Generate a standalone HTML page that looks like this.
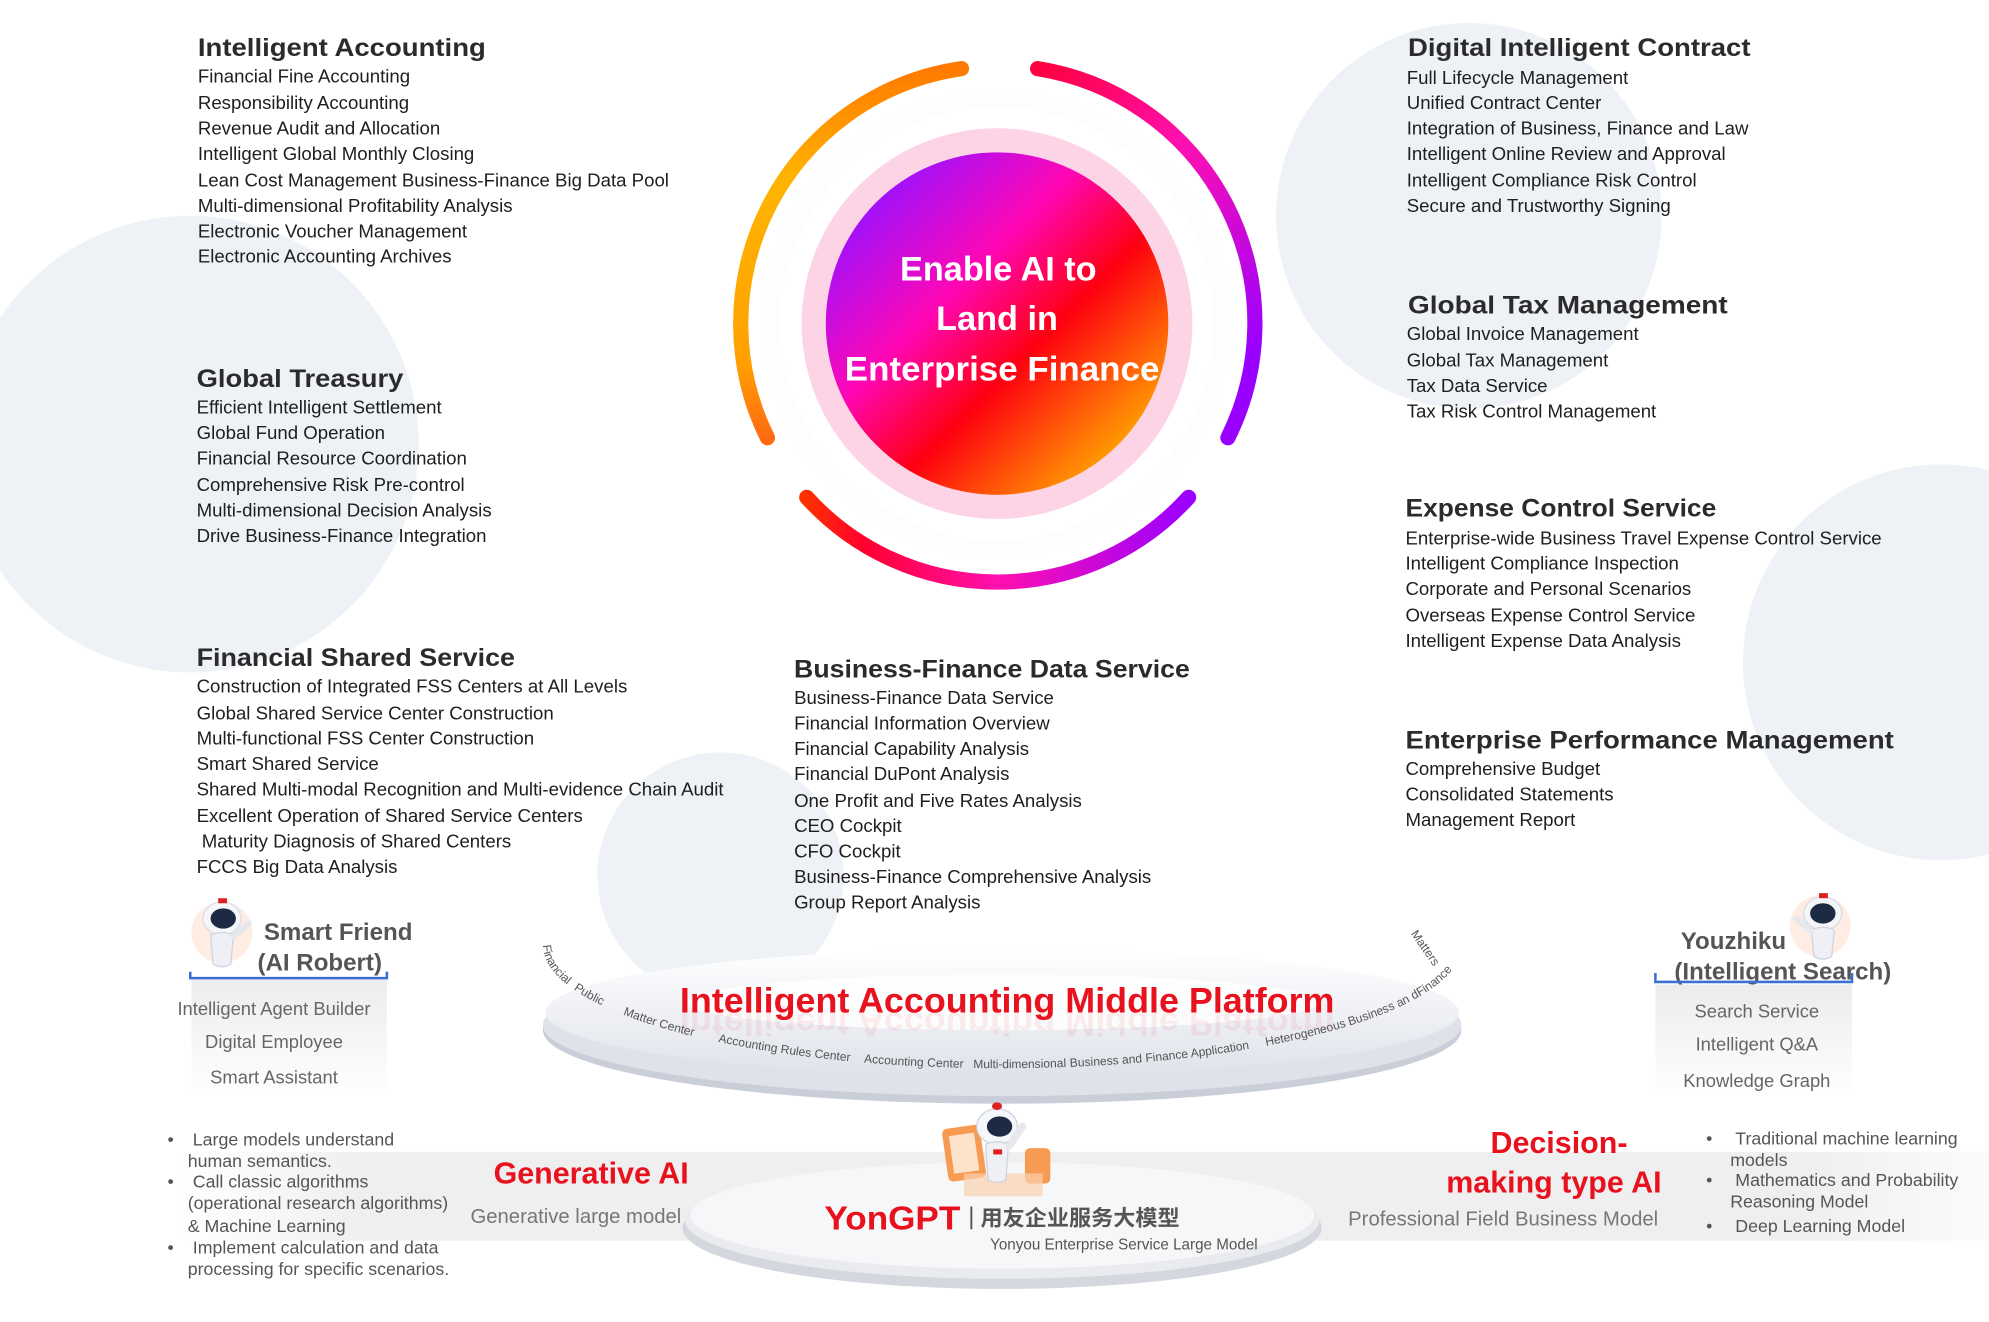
<!DOCTYPE html>
<html><head><meta charset="utf-8"><style>
html,body{margin:0;padding:0;background:#fff;overflow:hidden}
svg{display:block}
text{font-family:"Liberation Sans","Noto Sans CJK SC",sans-serif}
.h{font-weight:bold;font-size:20px;fill:#2b2b2b}
.i{font-size:14.7px;fill:#1e1e1e}
.g{font-size:14.5px;fill:#666}
.b{font-size:14px;fill:#555}
</style></head><body>
<svg width="1989" height="1322" viewBox="0 0 1568 1042" xmlns="http://www.w3.org/2000/svg">
<defs>
<linearGradient id="core" x1="0.15" y1="0.1" x2="0.9" y2="0.85">
<stop offset="0" stop-color="#9a12ff"/><stop offset="0.35" stop-color="#ff07b5"/><stop offset="0.62" stop-color="#ff0010"/><stop offset="1" stop-color="#ffa500"/></linearGradient>
<linearGradient id="arcL" x1="0" y1="0" x2="0" y2="1"><stop offset="0" stop-color="#ff7a00"/><stop offset="0.3" stop-color="#ffb400"/><stop offset="0.8" stop-color="#ffa000"/><stop offset="1" stop-color="#ff6a10"/></linearGradient>
<linearGradient id="arcR" x1="0" y1="0" x2="0.4" y2="1"><stop offset="0" stop-color="#ff0040"/><stop offset="0.4" stop-color="#ff10b0"/><stop offset="1" stop-color="#9a00ff"/></linearGradient>
<linearGradient id="arcB" x1="0" y1="0" x2="1" y2="0"><stop offset="0" stop-color="#ff3000"/><stop offset="0.15" stop-color="#ff0030"/><stop offset="0.5" stop-color="#ff10b0"/><stop offset="1" stop-color="#9a00ff"/></linearGradient>
<radialGradient id="glow"><stop offset="0.75" stop-color="#ffd6ea"/><stop offset="1" stop-color="#fff" stop-opacity="0"/></radialGradient>
<linearGradient id="plat" x1="0" y1="0" x2="0" y2="1"><stop offset="0" stop-color="#ffffff"/><stop offset="0.6" stop-color="#eceef3"/><stop offset="1" stop-color="#dfe2ea"/></linearGradient>
<linearGradient id="band" x1="0" y1="0" x2="1" y2="0"><stop offset="0" stop-color="#f2f2f2" stop-opacity="0"/><stop offset="0.1" stop-color="#efefef"/><stop offset="0.9" stop-color="#efefef"/><stop offset="1" stop-color="#f2f2f2" stop-opacity="0.3"/></linearGradient>
<linearGradient id="box" x1="0" y1="0" x2="0" y2="1"><stop offset="0" stop-color="#ececec"/><stop offset="1" stop-color="#fff"/></linearGradient>
<path id="rim" d="M 428 745 A 362 97 0 0 0 1152 745"/>
</defs>

<circle cx="150" cy="350" r="180" fill="#eef1f5"/>
<circle cx="1158" cy="170" r="152" fill="#eef1f5"/>
<circle cx="1530" cy="522" r="156" fill="#eef1f5"/>
<circle cx="568" cy="690" r="97" fill="#eef1f5"/>

<circle cx="786" cy="255" r="190" fill="url(#glow)" opacity="0.6"/>
<circle cx="786" cy="255" r="171" fill="#fff"/>
<circle cx="786" cy="255" r="154" fill="#fdd3e6"/>
<circle cx="786" cy="255" r="135" fill="url(#core)"/>
<g fill="none" stroke-width="12" stroke-linecap="round">
<path d="M 605 345 A 203 203 0 0 1 758 54" stroke="url(#arcL)"/>
<path d="M 818 54 A 203 203 0 0 1 968 345" stroke="url(#arcR)"/>
<path d="M 636 392 A 203 203 0 0 0 937 392" stroke="url(#arcB)"/>
</g>
<g fill="#fff" font-weight="bold" font-size="27" text-anchor="middle">
<text x="787" y="221">Enable AI to</text>
<text x="786" y="260">Land in</text>
<text x="790" y="300" textLength="248" lengthAdjust="spacingAndGlyphs">Enterprise Finance</text>
</g>

<text class="h" x="156" y="44" textLength="227" lengthAdjust="spacingAndGlyphs">Intelligent Accounting</text>
<g class="i">
<text x="156" y="65">Financial Fine Accounting</text>
<text x="156" y="86">Responsibility Accounting</text>
<text x="156" y="106">Revenue Audit and Allocation</text>
<text x="156" y="126">Intelligent Global Monthly Closing</text>
<text x="156" y="147">Lean Cost Management Business-Finance Big Data Pool</text>
<text x="156" y="167">Multi-dimensional Profitability Analysis</text>
<text x="156" y="187">Electronic Voucher Management</text>
<text x="156" y="207">Electronic Accounting Archives</text>
</g>
<text class="h" x="155" y="305" textLength="163" lengthAdjust="spacingAndGlyphs">Global Treasury</text>
<g class="i">
<text x="155" y="326">Efficient Intelligent Settlement</text>
<text x="155" y="346">Global Fund Operation</text>
<text x="155" y="366">Financial Resource Coordination</text>
<text x="155" y="387">Comprehensive Risk Pre-control</text>
<text x="155" y="407">Multi-dimensional Decision Analysis</text>
<text x="155" y="427">Drive Business-Finance Integration</text>
</g>
<text class="h" x="155" y="525" textLength="251" lengthAdjust="spacingAndGlyphs">Financial Shared Service</text>
<g class="i">
<text x="155" y="546">Construction of Integrated FSS Centers at All Levels</text>
<text x="155" y="567">Global Shared Service Center Construction</text>
<text x="155" y="587">Multi-functional FSS Center Construction</text>
<text x="155" y="607">Smart Shared Service</text>
<text x="155" y="627">Shared Multi-modal Recognition and Multi-evidence Chain Audit</text>
<text x="155" y="648">Excellent Operation of Shared Service Centers</text>
<text x="159" y="668">Maturity Diagnosis of Shared Centers</text>
<text x="155" y="688">FCCS Big Data Analysis</text>
</g>

<text class="h" x="626" y="534" textLength="312" lengthAdjust="spacingAndGlyphs">Business-Finance Data Service</text>
<g class="i">
<text x="626" y="555">Business-Finance Data Service</text>
<text x="626" y="575">Financial Information Overview</text>
<text x="626" y="595">Financial Capability Analysis</text>
<text x="626" y="615">Financial DuPont Analysis</text>
<text x="626" y="636">One Profit and Five Rates Analysis</text>
<text x="626" y="656">CEO Cockpit</text>
<text x="626" y="676">CFO Cockpit</text>
<text x="626" y="696">Business-Finance Comprehensive Analysis</text>
<text x="626" y="716">Group Report Analysis</text>
</g>

<text class="h" x="1110" y="44" textLength="270" lengthAdjust="spacingAndGlyphs">Digital Intelligent Contract</text>
<g class="i">
<text x="1109" y="66">Full Lifecycle Management</text>
<text x="1109" y="86">Unified Contract Center</text>
<text x="1109" y="106">Integration of Business, Finance and Law</text>
<text x="1109" y="126">Intelligent Online Review and Approval</text>
<text x="1109" y="147">Intelligent Compliance Risk Control</text>
<text x="1109" y="167">Secure and Trustworthy Signing</text>
</g>
<text class="h" x="1110" y="247" textLength="252" lengthAdjust="spacingAndGlyphs">Global Tax Management</text>
<g class="i">
<text x="1109" y="268">Global Invoice Management</text>
<text x="1109" y="289">Global Tax Management</text>
<text x="1109" y="309">Tax Data Service</text>
<text x="1109" y="329">Tax Risk Control Management</text>
</g>
<text class="h" x="1108" y="407" textLength="245" lengthAdjust="spacingAndGlyphs">Expense Control Service</text>
<g class="i">
<text x="1108" y="429">Enterprise-wide Business Travel Expense Control Service</text>
<text x="1108" y="449">Intelligent Compliance Inspection</text>
<text x="1108" y="469">Corporate and Personal Scenarios</text>
<text x="1108" y="490">Overseas Expense Control Service</text>
<text x="1108" y="510">Intelligent Expense Data Analysis</text>
</g>
<text class="h" x="1108" y="590" textLength="385" lengthAdjust="spacingAndGlyphs">Enterprise Performance Management</text>
<g class="i">
<text x="1108" y="611">Comprehensive Budget</text>
<text x="1108" y="631">Consolidated Statements</text>
<text x="1108" y="651">Management Report</text>
</g>

<rect x="151" y="770" width="154" height="95" fill="url(#box)"/>
<circle cx="175" cy="735" r="24" fill="#ffe0d0" opacity="0.6"/>
<g>
<ellipse cx="175" cy="724" rx="15" ry="13" fill="#f4f6fa" stroke="#d8dce4"/>
<ellipse cx="176" cy="724" rx="10" ry="8" fill="#1d2a44"/>
<rect x="172" y="708" width="7" height="4" fill="#d22"/>
<path d="M166 737 Q175 733 184 737 L182 760 Q175 764 168 760 Z" fill="#eef0f5" stroke="#d0d4dc"/>
<path d="M184 738 L196 728" stroke="#e6e8ee" stroke-width="5" stroke-linecap="round"/>
</g>
<g font-weight="bold" font-size="19" fill="#555">
<text x="208" y="741">Smart Friend</text>
<text x="203" y="765">(AI Robert)</text>
</g>
<path d="M150 766 V771 H305 V766" fill="none" stroke="#3b6fd1" stroke-width="2"/>
<g class="g" text-anchor="middle">
<text x="216" y="800">Intelligent Agent Builder</text>
<text x="216" y="826">Digital Employee</text>
<text x="216" y="854">Smart Assistant</text>
</g>

<rect x="1305" y="776" width="155" height="88" fill="url(#box)"/>
<circle cx="1435" cy="730" r="24" fill="#ffe0d0" opacity="0.6"/>
<g>
<ellipse cx="1437" cy="720" rx="15" ry="13" fill="#f4f6fa" stroke="#d8dce4"/>
<ellipse cx="1437" cy="720" rx="10" ry="8" fill="#1d2a44"/>
<rect x="1434" y="704" width="7" height="4" fill="#d22"/>
<path d="M1428 733 Q1437 729 1446 733 L1444 754 Q1437 758 1430 754 Z" fill="#eef0f5" stroke="#d0d4dc"/>
<path d="M1428 734 L1416 724" stroke="#e6e8ee" stroke-width="5" stroke-linecap="round"/>
</g>
<g font-weight="bold" font-size="19" fill="#555">
<text x="1325" y="748">Youzhiku</text>
<text x="1320" y="772">(Intelligent Search)</text>
</g>
<path d="M1305 767 V774 H1460 V767" fill="none" stroke="#3b6fd1" stroke-width="2"/>
<g class="g" text-anchor="middle">
<text x="1385" y="802">Search Service</text>
<text x="1385" y="828">Intelligent Q&amp;A</text>
<text x="1385" y="857">Knowledge Graph</text>
</g>

<ellipse cx="790" cy="812" rx="362" ry="58" fill="#c9ced8"/>
<ellipse cx="790" cy="808" rx="362" ry="56" fill="#dfe2e9"/>
<ellipse cx="790" cy="798" rx="360" ry="50" fill="url(#plat)"/>
<ellipse cx="790" cy="790" rx="250" ry="22" fill="#fff" opacity="0.8"/>
<text x="794" y="798" text-anchor="middle" font-weight="bold" font-size="28" fill="#e8121e" textLength="516" lengthAdjust="spacingAndGlyphs">Intelligent Accounting Middle Platform</text>
<text x="794" y="806" text-anchor="middle" font-weight="bold" font-size="26" fill="#e8121e" opacity="0.07" transform="translate(0,1604) scale(1,-1)" textLength="516" lengthAdjust="spacingAndGlyphs">Intelligent Accounting Middle Platform</text>
<g font-size="9.5" fill="#555">
<text><textPath href="#rim" startOffset="0">Financial</textPath></text>
<text><textPath href="#rim" startOffset="44">Public</textPath></text>
<text><textPath href="#rim" startOffset="88">Matter Center</textPath></text>
<text><textPath href="#rim" startOffset="166">Accounting Rules Center</textPath></text>
<text><textPath href="#rim" startOffset="282">Accounting Center</textPath></text>
<text><textPath href="#rim" startOffset="368">Multi-dimensional Business and Finance Application</textPath></text>
<text><textPath href="#rim" startOffset="600">Heterogeneous Business an dFinance</textPath></text>
<text x="1112" y="736" transform="rotate(55 1112 736)">Matters</text>
</g>

<rect x="140" y="908" width="1428" height="70" fill="url(#band)"/>
<ellipse cx="790" cy="968" rx="252" ry="48" fill="#d4d7de"/>
<ellipse cx="790" cy="962" rx="250" ry="46" fill="#e9ebef"/>
<ellipse cx="790" cy="958" rx="246" ry="42" fill="#f6f7f9"/>
<g>
<rect x="745" y="888" width="30" height="42" rx="4" fill="#f79a52" transform="rotate(-8 760 909)"/>
<rect x="750" y="894" width="20" height="30" fill="#fde3cc" transform="rotate(-8 760 909)"/>
<rect x="808" y="905" width="20" height="28" rx="4" fill="#f79a52"/>
<rect x="760" y="925" width="62" height="18" fill="#fbd0b0" opacity="0.7"/>
<ellipse cx="786" cy="888" rx="16" ry="14" fill="#f4f6fa" stroke="#d0d4dc"/>
<ellipse cx="788" cy="888" rx="10" ry="8" fill="#1d2a44"/>
<ellipse cx="786" cy="872" rx="4" ry="3" fill="#d22"/>
<path d="M777 902 Q786 898 795 902 L793 930 Q786 934 779 930 Z" fill="#eef0f5" stroke="#d0d4dc"/>
<path d="M796 903 L806 888" stroke="#e6e8ee" stroke-width="6" stroke-linecap="round"/>
<rect x="783" y="906" width="7" height="4" fill="#e02020"/>
</g>
<text x="650" y="969" font-weight="bold" font-size="26" fill="#e8121e" textLength="107" lengthAdjust="spacingAndGlyphs">YonGPT</text>
<rect x="765" y="951" width="1.5" height="18" fill="#555"/>
<text x="773" y="966" font-weight="bold" font-size="17" fill="#555" textLength="157" lengthAdjust="spacingAndGlyphs">用友企业服务大模型</text>
<text x="886" y="985" text-anchor="middle" font-size="12" fill="#555">Yonyou Enterprise Service Large Model</text>

<g font-weight="bold" font-size="24" fill="#e8121e" text-anchor="middle">
<text x="466" y="933">Generative AI</text>
<text x="1229" y="909">Decision-</text>
<text x="1225" y="940">making type AI</text>
</g>
<g font-size="16" fill="#777" text-anchor="middle">
<text x="454" y="964">Generative large model</text>
<text x="1185" y="966">Professional Field Business Model</text>
</g>

<g class="b">
<text x="132" y="903">•</text><text x="152" y="903">Large models understand</text>
<text x="148" y="920">human semantics.</text>
<text x="132" y="936">•</text><text x="152" y="936">Call classic algorithms</text>
<text x="148" y="953">(operational research algorithms)</text>
<text x="148" y="971">&amp; Machine Learning</text>
<text x="132" y="988">•</text><text x="152" y="988">Implement calculation and data</text>
<text x="148" y="1005">processing for specific scenarios.</text>
<text x="1345" y="902">•</text><text x="1368" y="902">Traditional machine learning</text>
<text x="1364" y="919">models</text>
<text x="1345" y="935">•</text><text x="1368" y="935">Mathematics and Probability</text>
<text x="1364" y="952">Reasoning Model</text>
<text x="1345" y="971">•</text><text x="1368" y="971">Deep Learning Model</text>
</g>
</svg>
</body></html>
